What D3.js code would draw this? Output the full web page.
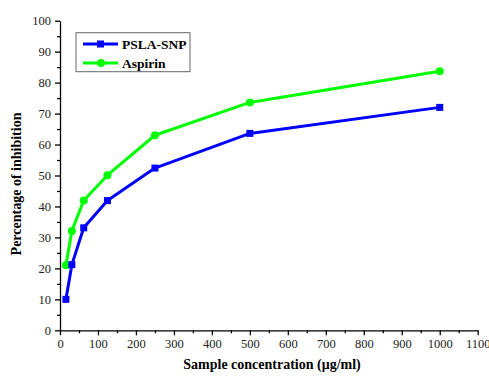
<!DOCTYPE html>
<html>
<head>
<meta charset="utf-8">
<script src="https://cdn.jsdelivr.net/npm/d3@7"></script>
<style>
body { margin: 0; background: #fff; }
svg text { font-family: "Liberation Serif", "Times New Roman", serif; }
</style>
</head>
<body>
<script>
// data
const conc = [15.6, 31.25, 62.5, 125, 250, 500, 1000]
const pslaSnp = [10, 21.2, 33.1, 41.9, 52.4, 63.6, 72]
const aspirin = [21, 32.1, 41.9, 50.1, 63, 73.6, 83.7]
const xTicks = [0, 100, 200, 300, 400, 500, 600, 700, 800, 900, 1000, 1100]
const yTicks = [0, 10, 20, 30, 40, 50, 60, 70, 80, 90, 100]

const svgw = 489
const svgh = 379
const padL = 60
const padR = 477.7
const padT = 20.7
const padB = 330.3

const svg = d3.select('body').append('svg').attr('width', svgw).attr('height', svgh)

const xScale = d3.scaleLinear().domain([0, 1100]).range([padL, padR])
const yScale = d3.scaleLinear().domain([0, 100]).range([padB, padT])

// minor ticks
svg.append('g')
	.attr('transform', `translate(0,${padB})`)
	.call(d3.axisBottom(xScale).tickValues(d3.range(50, 1100, 100)).tickSize(3).tickFormat(''))
	.call(g => g.select('.domain').remove())
svg.append('g')
	.attr('transform', `translate(${padL},0)`)
	.call(d3.axisLeft(yScale).tickValues(d3.range(5, 100, 10)).tickSize(3).tickFormat(''))
	.call(g => g.select('.domain').remove())

svg.append('g')
	.attr('transform', `translate(0,${padB})`)
	.call(d3.axisBottom(xScale).tickValues(xTicks).tickFormat(d3.format('d')).tickSize(5).tickSizeOuter(0).tickPadding(4))
svg.append('g')
	.attr('transform', `translate(${padL},0)`)
	.call(d3.axisLeft(yScale).tickValues(yTicks).tickFormat(d3.format('d')).tickSize(5).tickSizeOuter(0).tickPadding(4))

svg.selectAll('.tick line, .domain').attr('stroke', '#000').attr('stroke-width', 1.3)
svg.selectAll('.tick text').style('font-size', '12.5px').attr('fill', '#222')

const line = d3.line()
	.x(d => xScale(d[0]))
	.y(d => yScale(d[1]))

const series = [
	{ name: 'PSLA-SNP', values: pslaSnp, color: '#0000ff', shape: 'square' },
	{ name: 'Aspirin', values: aspirin, color: '#00ff00', shape: 'circle' }
]

// draw aspirin first then psla on top
series.slice().reverse().forEach(s => {
	const pts = conc.map((c, i) => [c, s.values[i]])
	svg.append('path')
		.datum(pts)
		.attr('d', line)
		.attr('fill', 'none')
		.attr('stroke', s.color)
		.attr('stroke-width', 3)
		.attr('stroke-linejoin', 'round')
	if (s.shape === 'square') {
		svg.selectAll(null).data(pts).enter().append('rect')
			.attr('x', d => xScale(d[0]) - 3.5)
			.attr('y', d => yScale(d[1]) - 3.5)
			.attr('width', 7).attr('height', 7)
			.attr('fill', s.color)
	} else {
		svg.selectAll(null).data(pts).enter().append('circle')
			.attr('cx', d => xScale(d[0]))
			.attr('cy', d => yScale(d[1]))
			.attr('r', 4)
			.attr('fill', s.color)
	}
})

// legend
const lg = svg.append('g')
lg.append('rect')
	.attr('x', 76).attr('y', 32.7).attr('width', 114).attr('height', 39)
	.attr('fill', '#fff').attr('stroke', '#666').attr('stroke-width', 1)
series.forEach((s, i) => {
	const y = 44 + i * 19
	lg.append('line').attr('x1', 83).attr('x2', 118).attr('y1', y).attr('y2', y)
		.attr('stroke', s.color).attr('stroke-width', 3)
	if (s.shape === 'square') {
		lg.append('rect').attr('x', 100.5 - 3.5).attr('y', y - 3.5).attr('width', 7).attr('height', 7).attr('fill', s.color)
	} else {
		lg.append('circle').attr('cx', 101).attr('cy', y).attr('r', 4).attr('fill', s.color)
	}
	lg.append('text').attr('x', 122).attr('y', y + 4.5)
		.style('font-weight', 'bold').style('font-size', '13.5px')
		.text(s.name)
})

// axis titles
svg.append('text')
	.attr('x', 272).attr('y', 369)
	.attr('text-anchor', 'middle')
	.style('font-weight', 'bold').style('font-size', '14px')
	.text('Sample concentration (μg/ml)')

svg.append('text')
	.attr('transform', 'translate(21,184) rotate(-90)')
	.attr('text-anchor', 'middle')
	.style('font-weight', 'bold').style('font-size', '14px')
	.text('Percentage of inhibition')
</script>
</body>
</html>
